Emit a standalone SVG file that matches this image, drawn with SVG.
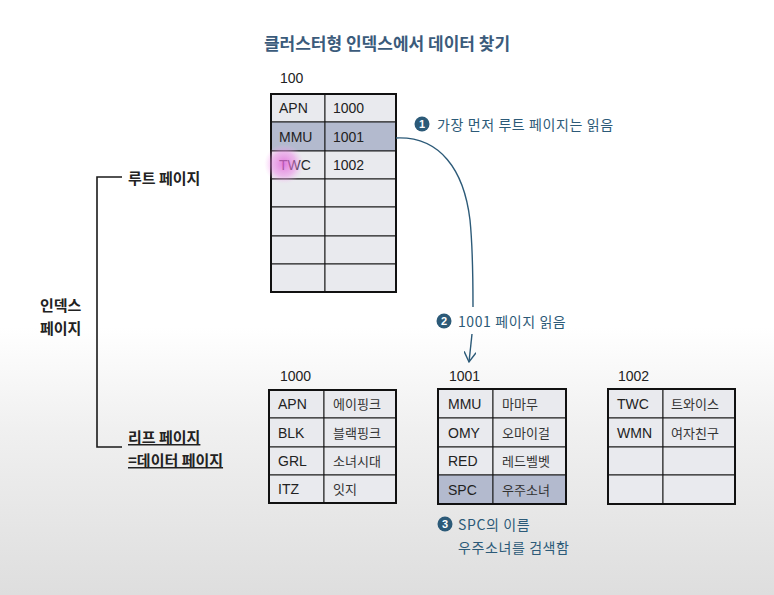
<svg xmlns="http://www.w3.org/2000/svg" width="774" height="595" viewBox="0 0 774 595">
<defs>
<linearGradient id="bg" x1="0" y1="0" x2="0" y2="1">
<stop offset="0" stop-color="#ffffff"/>
<stop offset="0.55" stop-color="#ffffff"/>
<stop offset="0.72" stop-color="#f0f0f0"/>
<stop offset="1" stop-color="#dedede"/>
</linearGradient>
<radialGradient id="glow">
<stop offset="0" stop-color="#e060d8" stop-opacity="0.8"/>
<stop offset="0.6" stop-color="#ee88e8" stop-opacity="0.5"/>
<stop offset="1" stop-color="#f8c0f4" stop-opacity="0"/>
</radialGradient>
<marker id="arr" viewBox="0 0 12 12" refX="11" refY="6" markerWidth="12" markerHeight="12" markerUnits="userSpaceOnUse" orient="auto">
<path d="M1,0 L11,6 L1,12" fill="none" stroke="#2c5a78" stroke-width="1.4"/>
</marker>
<style>
.cell{fill:#e9eaee;stroke:#1a1a1a;stroke-width:1}
.dark{fill:#b3bace;stroke:#1a1a1a;stroke-width:1}
.frame{fill:none;stroke:#111;stroke-width:2}
.t{font-family:"Liberation Sans",Arial,sans-serif;font-size:14px;fill:#222}
.k{font-family:"Noto Sans CJK KR","Noto Sans",sans-serif;font-size:13px;fill:#333}
.lab{font-family:"Noto Sans CJK KR",sans-serif;font-size:15px;font-weight:bold;fill:#222}
.ann{font-family:"Noto Sans CJK KR",sans-serif;font-size:14px;letter-spacing:0.6px;fill:#2c5a78}
.num{font-family:"Liberation Sans",Arial,sans-serif;font-size:11px;font-weight:bold;fill:#fff}
.dot{fill:#2c5a78}
.conn{fill:none;stroke:#2c5a78;stroke-width:1.4}
</style>
</defs>
<rect width="774" height="595" fill="url(#bg)"/>
<text x="387" y="50" text-anchor="middle" style="font-family:'Noto Sans CJK KR',sans-serif;font-size:17px;font-weight:bold;fill:#3b5b7b">클러스터형 인덱스에서 데이터 찾기</text>

<g id="bracket">
<path d="M122,177 H97 V447 H122" fill="none" stroke="#1a1a1a" stroke-width="1.6"/>
<text class="lab" x="128" y="184">루트 페이지</text>
<text class="lab" x="40" y="311">인덱스</text>
<text class="lab" x="40" y="334">페이지</text>
<text class="lab" x="128" y="443" text-decoration="underline">리프 페이지</text>
<text class="lab" x="128" y="466" text-decoration="underline">=데이터 페이지</text>
</g>

<g id="root">
<text class="t" x="280" y="83">100</text>
<rect class="cell" x="271" y="94" width="54" height="28"/><rect class="cell" x="325" y="94" width="71" height="28"/>
<rect class="dark" x="271" y="122" width="54" height="29"/><rect class="dark" x="325" y="122" width="71" height="29"/>
<rect class="cell" x="271" y="151" width="54" height="28"/><rect class="cell" x="325" y="151" width="71" height="28"/>
<rect class="cell" x="271" y="179" width="54" height="28"/><rect class="cell" x="325" y="179" width="71" height="28"/>
<rect class="cell" x="271" y="207" width="54" height="29"/><rect class="cell" x="325" y="207" width="71" height="29"/>
<rect class="cell" x="271" y="236" width="54" height="28"/><rect class="cell" x="325" y="236" width="71" height="28"/>
<rect class="cell" x="271" y="264" width="54" height="28"/><rect class="cell" x="325" y="264" width="71" height="28"/>
<rect class="frame" x="271" y="94" width="125" height="198"/>
<text class="t" x="279" y="113">APN</text><text class="t" x="333" y="113">1000</text>
<text class="t" x="279" y="142">MMU</text><text class="t" x="333" y="142">1001</text>
<text class="t" x="279" y="170">TWC</text><text class="t" x="333" y="170">1002</text>
</g>
<circle cx="284" cy="164" r="20" fill="url(#glow)"/>

<g id="leaf1000">
<text class="t" x="280" y="381">1000</text>
<rect class="cell" x="269" y="390" width="55" height="28"/><rect class="cell" x="324" y="390" width="72" height="28"/>
<rect class="cell" x="269" y="418" width="55" height="29"/><rect class="cell" x="324" y="418" width="72" height="29"/>
<rect class="cell" x="269" y="447" width="55" height="28"/><rect class="cell" x="324" y="447" width="72" height="28"/>
<rect class="cell" x="269" y="475" width="55" height="28"/><rect class="cell" x="324" y="475" width="72" height="28"/>
<rect class="frame" x="269" y="390" width="127" height="113"/>
<text class="t" x="278" y="409">APN</text><text class="k" x="333" y="409">에이핑크</text>
<text class="t" x="278" y="438">BLK</text><text class="k" x="333" y="438">블랙핑크</text>
<text class="t" x="278" y="466">GRL</text><text class="k" x="333" y="466">소녀시대</text>
<text class="t" x="278" y="494">ITZ</text><text class="k" x="333" y="494">잇지</text>
</g>

<g id="leaf1001">
<text class="t" x="449" y="381">1001</text>
<rect class="cell" x="438" y="389" width="55" height="29"/><rect class="cell" x="493" y="389" width="73" height="29"/>
<rect class="cell" x="438" y="418" width="55" height="29"/><rect class="cell" x="493" y="418" width="73" height="29"/>
<rect class="cell" x="438" y="447" width="55" height="28"/><rect class="cell" x="493" y="447" width="73" height="28"/>
<rect class="dark" x="438" y="475" width="55" height="29"/><rect class="dark" x="493" y="475" width="73" height="29"/>
<rect class="frame" x="438" y="389" width="128" height="115"/>
<text class="t" x="448" y="409">MMU</text><text class="k" x="502" y="409">마마무</text>
<text class="t" x="448" y="438">OMY</text><text class="k" x="502" y="438">오마이걸</text>
<text class="t" x="448" y="466">RED</text><text class="k" x="502" y="466">레드벨벳</text>
<text class="t" x="448" y="495">SPC</text><text class="k" x="502" y="495">우주소녀</text>
</g>

<g id="leaf1002">
<text class="t" x="618" y="381">1002</text>
<rect class="cell" x="608" y="389" width="55" height="29"/><rect class="cell" x="663" y="389" width="72" height="29"/>
<rect class="cell" x="608" y="418" width="55" height="29"/><rect class="cell" x="663" y="418" width="72" height="29"/>
<rect class="cell" x="608" y="447" width="55" height="28"/><rect class="cell" x="663" y="447" width="72" height="28"/>
<rect class="cell" x="608" y="475" width="55" height="29"/><rect class="cell" x="663" y="475" width="72" height="29"/>
<rect class="frame" x="608" y="389" width="127" height="115"/>
<text class="t" x="617" y="409">TWC</text><text class="k" x="671" y="409">트와이스</text>
<text class="t" x="617" y="438">WMN</text><text class="k" x="671" y="438">여자친구</text>
</g>

<g id="connectors">
<path class="conn" d="M396,138 C440,136 464,170 470,220 C473,250 473,280 473,307"/>
<path class="conn" d="M472,334 L469,362" marker-end="url(#arr)"/>
</g>

<g id="notes">
<circle class="dot" cx="422" cy="124" r="7.5"/><text class="num" x="422" y="128" text-anchor="middle">1</text>
<text class="ann" x="437" y="130">가장 먼저 루트 페이지는 읽음</text>
<circle class="dot" cx="444" cy="321" r="7.5"/><text class="num" x="444" y="325" text-anchor="middle">2</text>
<text class="ann" x="458" y="327">1001 페이지 읽음</text>
<circle class="dot" cx="445" cy="524" r="7.5"/><text class="num" x="445" y="528" text-anchor="middle">3</text>
<text class="ann" x="458" y="530">SPC의 이름</text>
<text class="ann" x="458" y="553">우주소녀를 검색함</text>
</g>
</svg>
